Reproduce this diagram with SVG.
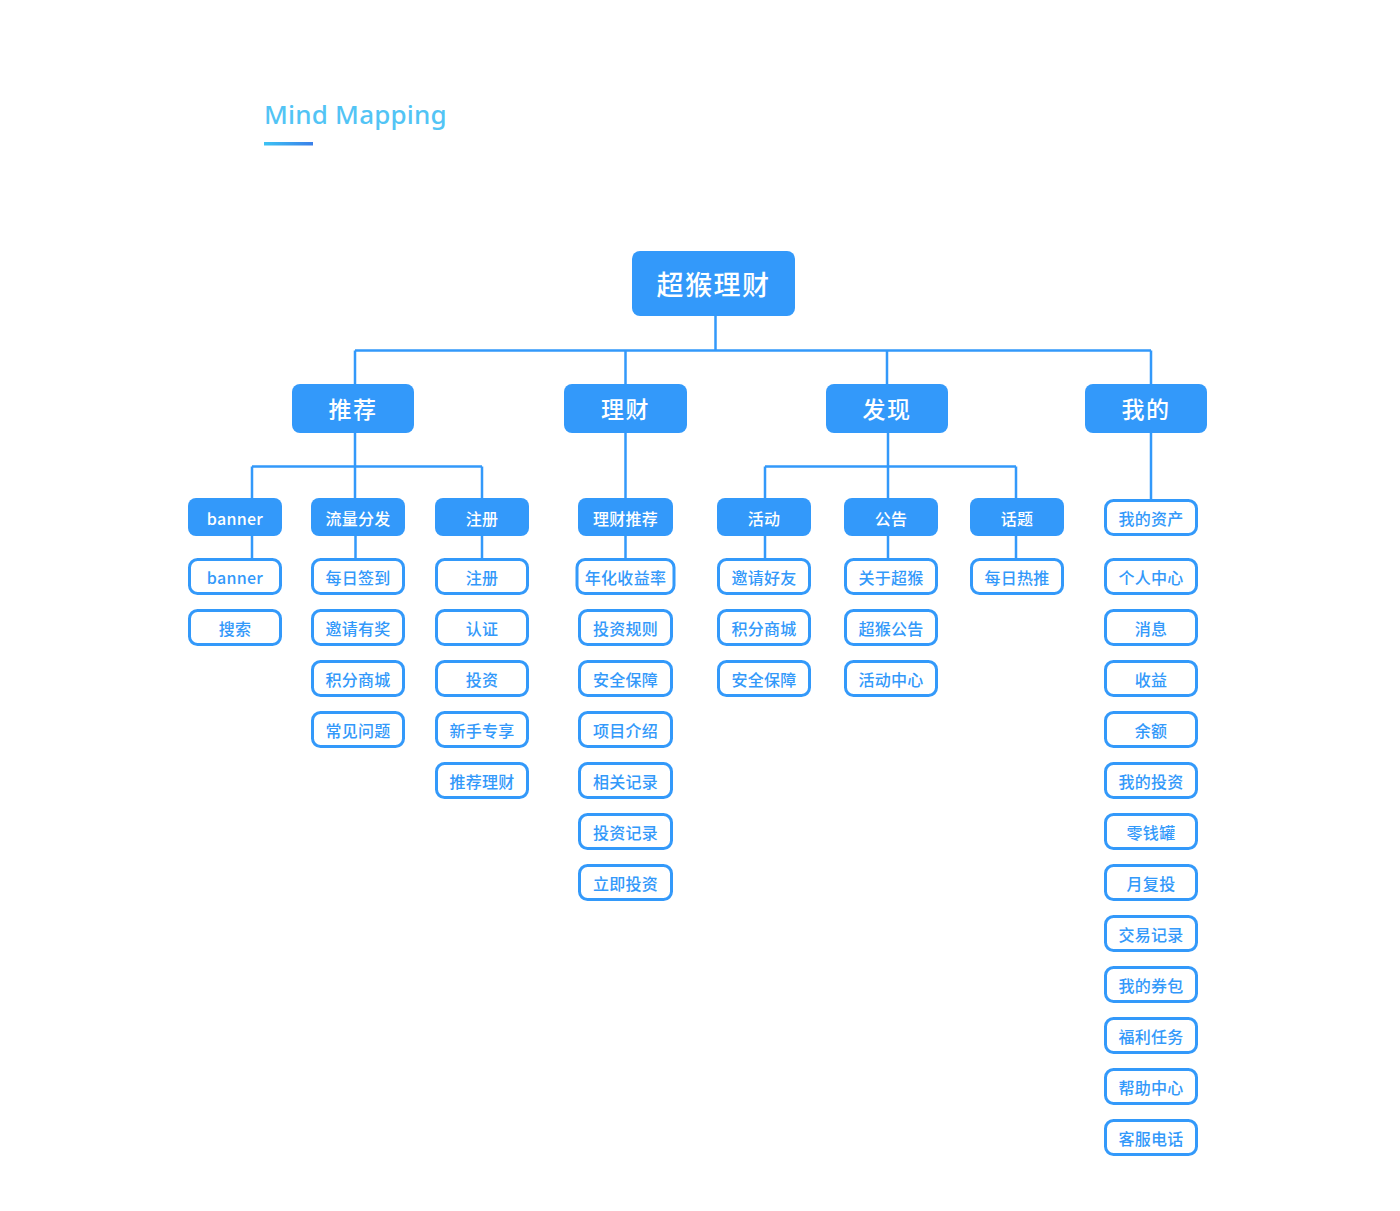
<svg xmlns="http://www.w3.org/2000/svg" width="1400" height="1211" viewBox="0 0 1400 1211">
<defs>
<linearGradient id="ul" x1="0" y1="0" x2="1" y2="0">
<stop offset="0" stop-color="#3cc3f4"/>
<stop offset="1" stop-color="#3a7fe9"/>
</linearGradient>
<style>
.bg{fill:#ffffff}
.title{font-family:"Noto Sans","Open Sans",sans-serif;font-size:26px;font-weight:500;fill:#52c4f5;letter-spacing:0.2px}
.fill{fill:#3399fa}
.out{fill:#ffffff;stroke:#3399fa;stroke-width:3}
.t0{font-family:"Noto Sans CJK SC","Noto Sans",sans-serif;font-size:27px;font-weight:500;fill:#ffffff;text-anchor:middle;dominant-baseline:central;letter-spacing:1.5px}
.t1{font-family:"Noto Sans CJK SC","Noto Sans",sans-serif;font-size:23px;font-weight:500;fill:#ffffff;text-anchor:middle;dominant-baseline:central;letter-spacing:1.5px}
.t2{font-family:"Noto Sans CJK SC","Noto Sans",sans-serif;font-size:16px;font-weight:500;fill:#ffffff;text-anchor:middle;dominant-baseline:central;letter-spacing:0.3px}
.t3{font-family:"Noto Sans CJK SC","Noto Sans",sans-serif;font-size:16px;font-weight:500;fill:#3399fa;text-anchor:middle;dominant-baseline:central;letter-spacing:0.3px}
.ln{fill:none;stroke:#3399fa;stroke-width:2.5}
</style>
</defs>
<rect class="bg" x="0" y="0" width="1400" height="1211"/>
<g id="title">
<text class="title" x="264" y="124">Mind Mapping</text>
<rect x="264" y="142" width="49" height="3.5" fill="url(#ul)"/>
</g>
<g id="connectors">
<path class="ln" d="M715.5 316 V350.5 M355 350.5 H1151 M355 350.5 V384 M625.5 350.5 V384 M887 350.5 V384 M1151 350.5 V384"/>
<path class="ln" d="M355 433 V466.5 M252 466.5 H482 M252 466.5 V498 M355 466.5 V498 M482 466.5 V498"/>
<path class="ln" d="M625.5 433 V498"/>
<path class="ln" d="M888 433 V466.5 M765 466.5 H1016 M765 466.5 V498 M888 466.5 V498 M1016 466.5 V498"/>
<path class="ln" d="M1151 433 V499"/>
<path class="ln" d="M252 536 V558 M355.5 536 V558 M482 536 V558 M625.5 536 V558 M765 536 V558 M888 536 V558 M1016 536 V558"/>
</g>
<g id="root">
<rect class="fill" x="632" y="251" width="163" height="65" rx="8"/>
<text class="t0" x="713.5" y="283">超猴理财</text>
</g>
<g id="n-tuijian"><rect class="fill" x="292" y="384" width="122" height="49" rx="8"/><text class="t1" x="353" y="408">推荐</text></g>
<g id="n-licai"><rect class="fill" x="564" y="384" width="123" height="49" rx="8"/><text class="t1" x="625.5" y="408">理财</text></g>
<g id="n-faxian"><rect class="fill" x="826" y="384" width="122" height="49" rx="8"/><text class="t1" x="887" y="408">发现</text></g>
<g id="n-wode"><rect class="fill" x="1085" y="384" width="122" height="49" rx="8"/><text class="t1" x="1146" y="408">我的</text></g>

<g id="n-banner"><rect class="fill" x="188" y="498" width="94" height="38" rx="8"/><text class="t2" x="235" y="518">banner</text></g>
<g id="n-liuliang"><rect class="fill" x="311" y="498" width="94" height="38" rx="8"/><text class="t2" x="358" y="518">流量分发</text></g>
<g id="n-zhuce"><rect class="fill" x="435" y="498" width="94" height="38" rx="8"/><text class="t2" x="482" y="518">注册</text></g>
<g id="n-licaituijian"><rect class="fill" x="578" y="498" width="95" height="38" rx="8"/><text class="t2" x="625.5" y="518">理财推荐</text></g>
<g id="n-huodong"><rect class="fill" x="717" y="498" width="94" height="38" rx="8"/><text class="t2" x="764" y="518">活动</text></g>
<g id="n-gonggao"><rect class="fill" x="844" y="498" width="94" height="38" rx="8"/><text class="t2" x="891" y="518">公告</text></g>
<g id="n-huati"><rect class="fill" x="970" y="498" width="94" height="38" rx="8"/><text class="t2" x="1017" y="518">话题</text></g>

<g id="c1-1"><rect class="out" x="189.5" y="559.5" width="91" height="34" rx="8"/><text class="t3" x="235" y="577">banner</text></g>
<g id="c1-2"><rect class="out" x="189.5" y="610.5" width="91" height="34" rx="8"/><text class="t3" x="235" y="628">搜索</text></g>

<g id="c2-1"><rect class="out" x="312.5" y="559.5" width="91" height="34" rx="8"/><text class="t3" x="358" y="577">每日签到</text></g>
<g id="c2-2"><rect class="out" x="312.5" y="610.5" width="91" height="34" rx="8"/><text class="t3" x="358" y="628">邀请有奖</text></g>
<g id="c2-3"><rect class="out" x="312.5" y="661.5" width="91" height="34" rx="8"/><text class="t3" x="358" y="679">积分商城</text></g>
<g id="c2-4"><rect class="out" x="312.5" y="712.5" width="91" height="34" rx="8"/><text class="t3" x="358" y="730">常见问题</text></g>

<g id="c3-1"><rect class="out" x="436.5" y="559.5" width="91" height="34" rx="8"/><text class="t3" x="482" y="577">注册</text></g>
<g id="c3-2"><rect class="out" x="436.5" y="610.5" width="91" height="34" rx="8"/><text class="t3" x="482" y="628">认证</text></g>
<g id="c3-3"><rect class="out" x="436.5" y="661.5" width="91" height="34" rx="8"/><text class="t3" x="482" y="679">投资</text></g>
<g id="c3-4"><rect class="out" x="436.5" y="712.5" width="91" height="34" rx="8"/><text class="t3" x="482" y="730">新手专享</text></g>
<g id="c3-5"><rect class="out" x="436.5" y="763.5" width="91" height="34" rx="8"/><text class="t3" x="482" y="781">推荐理财</text></g>

<g id="c4-1"><rect class="out" x="577" y="559.5" width="97" height="34" rx="8"/><text class="t3" x="625.5" y="577">年化收益率</text></g>
<g id="c4-2"><rect class="out" x="579.5" y="610.5" width="92" height="34" rx="8"/><text class="t3" x="625.5" y="628">投资规则</text></g>
<g id="c4-3"><rect class="out" x="579.5" y="661.5" width="92" height="34" rx="8"/><text class="t3" x="625.5" y="679">安全保障</text></g>
<g id="c4-4"><rect class="out" x="579.5" y="712.5" width="92" height="34" rx="8"/><text class="t3" x="625.5" y="730">项目介绍</text></g>
<g id="c4-5"><rect class="out" x="579.5" y="763.5" width="92" height="34" rx="8"/><text class="t3" x="625.5" y="781">相关记录</text></g>
<g id="c4-6"><rect class="out" x="579.5" y="814.5" width="92" height="34" rx="8"/><text class="t3" x="625.5" y="832">投资记录</text></g>
<g id="c4-7"><rect class="out" x="579.5" y="865.5" width="92" height="34" rx="8"/><text class="t3" x="625.5" y="883">立即投资</text></g>

<g id="c5-1"><rect class="out" x="718.5" y="559.5" width="91" height="34" rx="8"/><text class="t3" x="764" y="577">邀请好友</text></g>
<g id="c5-2"><rect class="out" x="718.5" y="610.5" width="91" height="34" rx="8"/><text class="t3" x="764" y="628">积分商城</text></g>
<g id="c5-3"><rect class="out" x="718.5" y="661.5" width="91" height="34" rx="8"/><text class="t3" x="764" y="679">安全保障</text></g>

<g id="c6-1"><rect class="out" x="845.5" y="559.5" width="91" height="34" rx="8"/><text class="t3" x="891" y="577">关于超猴</text></g>
<g id="c6-2"><rect class="out" x="845.5" y="610.5" width="91" height="34" rx="8"/><text class="t3" x="891" y="628">超猴公告</text></g>
<g id="c6-3"><rect class="out" x="845.5" y="661.5" width="91" height="34" rx="8"/><text class="t3" x="891" y="679">活动中心</text></g>

<g id="c7-1"><rect class="out" x="971.5" y="559.5" width="91" height="34" rx="8"/><text class="t3" x="1017" y="577">每日热推</text></g>

<g id="c8-0"><rect class="out" x="1105.5" y="500.5" width="91" height="34" rx="8"/><text class="t3" x="1151" y="518">我的资产</text></g>
<g id="c8-1"><rect class="out" x="1105.5" y="559.5" width="91" height="34" rx="8"/><text class="t3" x="1151" y="577">个人中心</text></g>
<g id="c8-2"><rect class="out" x="1105.5" y="610.5" width="91" height="34" rx="8"/><text class="t3" x="1151" y="628">消息</text></g>
<g id="c8-3"><rect class="out" x="1105.5" y="661.5" width="91" height="34" rx="8"/><text class="t3" x="1151" y="679">收益</text></g>
<g id="c8-4"><rect class="out" x="1105.5" y="712.5" width="91" height="34" rx="8"/><text class="t3" x="1151" y="730">余额</text></g>
<g id="c8-5"><rect class="out" x="1105.5" y="763.5" width="91" height="34" rx="8"/><text class="t3" x="1151" y="781">我的投资</text></g>
<g id="c8-6"><rect class="out" x="1105.5" y="814.5" width="91" height="34" rx="8"/><text class="t3" x="1151" y="832">零钱罐</text></g>
<g id="c8-7"><rect class="out" x="1105.5" y="865.5" width="91" height="34" rx="8"/><text class="t3" x="1151" y="883">月复投</text></g>
<g id="c8-8"><rect class="out" x="1105.5" y="916.5" width="91" height="34" rx="8"/><text class="t3" x="1151" y="934">交易记录</text></g>
<g id="c8-9"><rect class="out" x="1105.5" y="967.5" width="91" height="34" rx="8"/><text class="t3" x="1151" y="985">我的券包</text></g>
<g id="c8-10"><rect class="out" x="1105.5" y="1018.5" width="91" height="34" rx="8"/><text class="t3" x="1151" y="1036">福利任务</text></g>
<g id="c8-11"><rect class="out" x="1105.5" y="1069.5" width="91" height="34" rx="8"/><text class="t3" x="1151" y="1087">帮助中心</text></g>
<g id="c8-12"><rect class="out" x="1105.5" y="1120.5" width="91" height="34" rx="8"/><text class="t3" x="1151" y="1138">客服电话</text></g>
</svg>
